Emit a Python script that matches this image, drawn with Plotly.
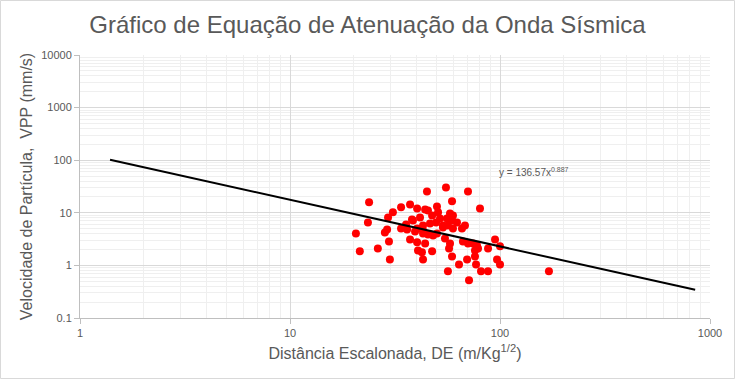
import math
import plotly.graph_objects as go

title_text = "Gráfico de Equação de Atenuação da Onda Sísmica"
x_title = "Distância Escalonada, DE (m/Kg<sup>1/2</sup>)"
y_title = "Velocidade de Partícula,  VPP (mm/s)"
equation = "y = 136.57x<sup>0.887</sup>"

# scaled distance (m/kg^1/2)
de = [20.6, 21.5, 23.8, 23.5, 26.2, 28.3, 29.0, 29.3, 30.9, 33.8,
      37.3, 33.8, 36.1, 38.1, 29.6, 29.9, 37.3, 40.3, 40.7, 44.9,
      55.3, 70.4, 59.1, 80.3, 40.3, 44.0, 45.4, 50.1, 50.7, 47.5,
      41.6, 38.5, 57.8, 59.7, 55.9, 59.1, 62.4, 53.5, 56.5, 59.7,
      68.1, 65.9, 43.0, 43.0, 40.3, 39.4, 43.0, 45.4, 48.0, 50.1,
      53.5, 44.0, 42.5, 47.5, 43.0, 54.7, 57.8, 57.2, 66.6, 70.4,
      74.4, 77.7, 78.6, 76.0, 69.7, 76.0, 59.1, 87.7, 94.7, 100.0,
      96.8, 100.0, 63.8, 76.9, 56.5, 81.2, 87.7, 71.2, 171.0, 35.7,
      51.8, 49.6, 46.4]
# peak particle velocity (mm/s)
vpp = [4.06, 1.85, 15.8, 6.57, 2.10, 4.24, 4.84, 8.18, 10.2, 12.7,
       14.4, 5.05, 4.84, 7.49, 2.86, 1.30, 3.12, 2.74, 1.93, 25.5,
       30.4, 25.5, 16.5, 12.1, 12.1, 11.6, 11.1, 13.2, 10.2, 8.93,
       8.18, 7.17, 9.74, 8.93, 7.83, 7.17, 6.57, 5.76, 5.76, 5.05,
       5.76, 5.05, 5.76, 4.63, 5.05, 4.43, 4.06, 3.88, 3.72, 4.06,
       5.28, 2.62, 1.77, 1.85, 1.30, 3.26, 2.62, 2.10, 2.86, 2.62,
       2.62, 2.40, 2.10, 1.93, 1.30, 1.48, 1.48, 2.10, 3.12, 2.30,
       1.30, 1.04, 1.04, 1.04, 0.77, 0.77, 0.77, 0.52, 0.77, 6.02,
       7.83, 6.57, 6.29]

# power-law trend line end points
trend_x = [1.39, 850]
trend_y = [102, 0.344]

x_tickvals = [1, 10, 100, 1000]
x_ticktext = ["1", "10", "100", "1000"]
y_tickvals = [0.1, 1, 10, 100, 1000, 10000]
y_ticktext = ["0.1", "1", "10", "100", "1000", "10000"]

eq_pos = (96.8, 58.6)

grey_text = "#595959"
font_family = "Liberation Sans, Arial, sans-serif"

fig = go.Figure()
fig.add_trace(go.Scatter(x=de, y=vpp, mode="markers",
                         marker=dict(color="#FF0000", size=8, line=dict(width=0)),
                         showlegend=False, hoverinfo="x+y"))
fig.add_trace(go.Scatter(x=trend_x, y=trend_y, mode="lines",
                         line=dict(color="black", width=2),
                         showlegend=False))

axis_common = dict(
    showline=True, linecolor="#BFBFBF", linewidth=1,
    showgrid=True, gridcolor="#D9D9D9", gridwidth=1,
    ticks="outside", tickcolor="#BFBFBF", ticklen=5,
    tickfont=dict(size=11, color=grey_text, family=font_family),
    zeroline=False, automargin=False,
    minor=dict(dtick="D1", showgrid=True, gridcolor="#EFEFEF", ticks=""),
)

fig.update_xaxes(type="log", range=[0, 3], tickvals=x_tickvals, ticktext=x_ticktext,
                 title=dict(text=x_title, font=dict(size=16, color=grey_text, family=font_family),
                            standoff=9),
                 **axis_common)
fig.update_yaxes(type="log", range=[-1, 4], tickvals=y_tickvals, ticktext=y_ticktext,
                 title=dict(text=y_title, font=dict(size=16, color=grey_text, family=font_family),
                            standoff=4),
                 **axis_common)

fig.add_annotation(x=math.log10(eq_pos[0]), y=math.log10(eq_pos[1]), xref="x", yref="y",
                   text=equation, showarrow=False, xanchor="left", yanchor="middle",
                   font=dict(size=10, color=grey_text, family=font_family))

# outer light border of the chart area
fig.add_shape(type="rect", xref="paper", yref="paper",
              x0=(0.5 - 80) / 630, x1=(734.5 - 80) / 630,
              y0=(318 - 378.5) / 263, y1=(318 - 0.5) / 263,
              line=dict(color="#D9D9D9", width=1), fillcolor="rgba(0,0,0,0)", layer="below")

fig.update_layout(
    width=735, height=379,
    margin=dict(l=80, r=25, t=55, b=61, autoexpand=False),
    paper_bgcolor="white", plot_bgcolor="white",
    title=dict(text=title_text, x=0.5, xanchor="center", y=1 - 25 / 379, yanchor="middle",
               font=dict(size=24, color=grey_text, family=font_family), automargin=False),
    font=dict(family=font_family, color=grey_text),
)

fig.write_html("out.html", config={"displayModeBar": False},
               post_script="document.body.style.margin='0';document.body.style.padding='0';")
